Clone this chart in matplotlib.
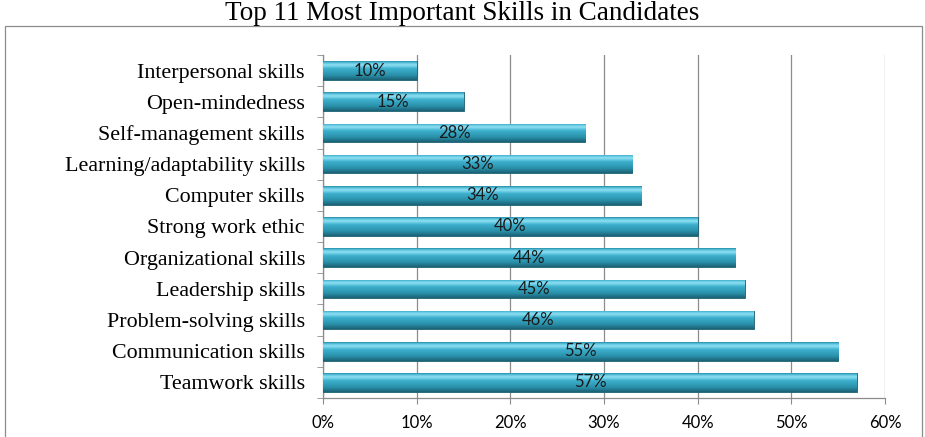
import matplotlib
matplotlib.use("Agg")
import matplotlib.pyplot as plt
import numpy as np
from matplotlib.colors import LinearSegmentedColormap
from matplotlib.patches import Rectangle

categories = ["Teamwork skills", "Communication skills", "Problem-solving skills",
              "Leadership skills", "Organizational skills", "Strong work ethic",
              "Computer skills", "Learning/adaptability skills", "Self-management skills",
              "Open-mindedness", "Interpersonal skills"]
values = [57, 55, 46, 45, 44, 40, 34, 33, 28, 15, 10]
xticks = [0, 10, 20, 30, 40, 50, 60]
xticklabels = ["0%", "10%", "20%", "30%", "40%", "50%", "60%"]
title = "Top 11 Most Important Skills in Candidates"

fig = plt.figure(figsize=(9.25, 4.37), dpi=100)
# outer chart frame
fig.patches.append(Rectangle((5/925, -0.01), 917/925, 1 - 26/437 + 0.01,
                             transform=fig.transFigure, fill=False,
                             edgecolor="#8c8c8c", linewidth=0.9))
ax = fig.add_axes([323/925, 1 - 398/437, (885 - 323)/925, (398 - 55)/437])

y = np.arange(len(categories))
bar_h = 0.6
bars = ax.barh(y, values, height=bar_h, color="#2e9cb8", edgecolor="#1d5e70",
               linewidth=0.6, zorder=3)

cmap = LinearSegmentedColormap.from_list("cyl", [
    (0.0, "#1b6275"), (0.25, "#2a90aa"), (0.6, "#3cb0cd"),
    (0.8, "#8ee0f3"), (0.9, "#5fc8e2"), (1.0, "#2a8fa9")])
grad = np.linspace(0, 1, 64).reshape(-1, 1)
for b in bars:
    x0, y0 = b.get_x(), b.get_y()
    w, h = b.get_width(), b.get_height()
    im = ax.imshow(grad, cmap=cmap, aspect="auto", origin="lower",
                   extent=[x0, x0 + w, y0, y0 + h], zorder=3.5)
    im.set_clip_path(b)
    ax.text(w / 2, y0 + h / 2, f"{w:g}%", ha="center", va="center",
            fontsize=12, family=["Lato", "DejaVu Sans"], color="#1a1a1a", zorder=5)

ax.set_xlim(0, 60)
ax.set_ylim(-0.5, len(categories) - 0.5)
ax.set_xticks(xticks)
ax.set_xticklabels(xticklabels, family=["Lato", "DejaVu Sans"], fontsize=12)
ax.set_yticks(y)
ax.set_yticklabels(categories, family=["Liberation Serif"], fontsize=15.8)
ax.tick_params(axis="y", length=0, pad=13)
ax.set_yticks(np.arange(-0.5, len(categories), 1), minor=True)
ax.tick_params(axis="y", which="minor", length=4, color="#8c8c8c", direction="out")
ax.tick_params(axis="x", length=4, color="#8c8c8c", direction="out", pad=8)
ax.grid(axis="x", color="#8c8c8c", linewidth=0.9, zorder=0)
ax.set_axisbelow(True)
for s in ["top", "right"]:
    ax.spines[s].set_visible(False)
for s in ["left", "bottom"]:
    ax.spines[s].set_color("#8c8c8c")
    ax.spines[s].set_linewidth(0.9)

fig.text(0.5, 1 - 13/437, title, ha="center", va="center",
         family=["Liberation Serif"], fontsize=19.5)

fig.savefig("out.png", dpi=100)
